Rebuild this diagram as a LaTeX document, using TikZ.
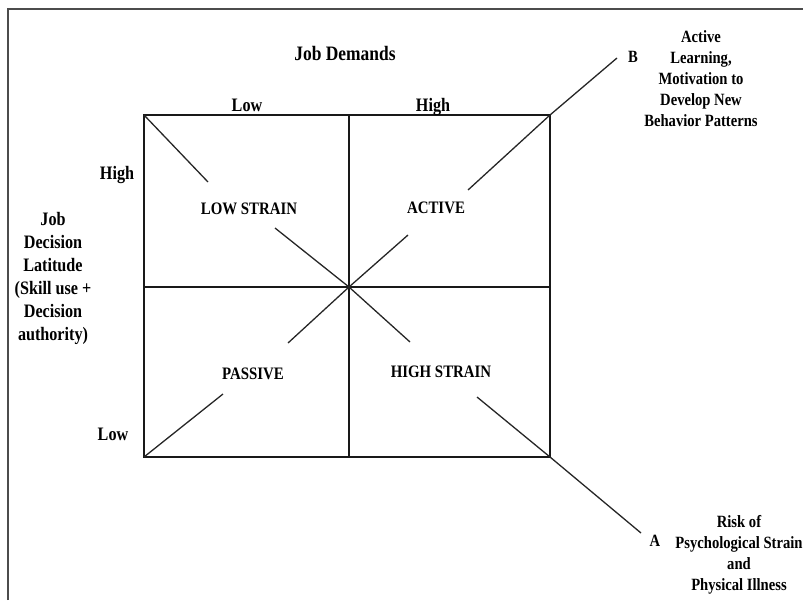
\documentclass[tikz,border=0pt]{standalone}
\usepackage{fontspec}
\setmainfont[FakeStretch=0.85]{Liberation Serif}
\usepackage{tikz}
\usetikzlibrary{positioning,calc}

\begin{document}
\begin{tikzpicture}[
  x=1pt, y=-1pt,
  grid/.style={line width=1.3pt, draw=black!90},
  diag/.style={line width=1.3pt, draw=black!85},
  axis/.style={font=\fontsize{19}{23}\selectfont\bfseries, anchor=base, align=center, inner sep=0pt},
  quad/.style={font=\fontsize{17.5}{21}\selectfont\bfseries, anchor=base, inner sep=0pt},
  note/.style={font=\fontsize{17.2}{21}\selectfont\bfseries, align=center, inner sep=0pt},
]
  \useasboundingbox (0,0) rectangle (803,600);

  % Frame
  \draw[line width=1.6pt, draw=black!70] (8,600) -- (8,9) -- (803,9);

  % Grid
  \coordinate (tl) at (144,115);
  \coordinate (tr) at (550,115);
  \coordinate (bl) at (144,457);
  \coordinate (br) at (550,457);
  \coordinate (c) at (349,287);
  \draw[grid] (tl) rectangle (br);
  \draw[grid] (349,115) -- (349,457);
  \draw[grid] (144,287) -- (550,287);

  % Axis labels
  \node[axis, font=\fontsize{20.5}{24}\selectfont\bfseries] (demands) at (345,60) {Job Demands};
  \node[axis] (dlow) at (247,111) {Low};
  \node[axis] (dhigh) at (433,111) {High};
  \node[axis] (lhigh) at (117,179) {High};
  \node[axis] (llow) at (113,440) {Low};
  \node[axis, anchor=north] (latitude) at (53,212)
    {Job\\Decision\\Latitude\\(Skill use +\\Decision\\authority)};

  % Quadrants
  \node[quad] (lowstrain) at (249,214) {LOW STRAIN};
  \node[quad] (active) at (436,213) {ACTIVE};
  \node[quad] (passive) at (253,379) {PASSIVE};
  \node[quad] (highstrain) at (441,377) {HIGH STRAIN};

  % Diagonal ends
  \node[note] (B) at (633,57) {B};
  \node[note] (A) at (655,541) {A};
  \node[note, anchor=north] (learning) at (701,30)
    {Active\\Learning,\\Motivation to\\Develop New\\Behavior Patterns};
  \node[note, anchor=north] (risk) at (739,515)
    {Risk of\\Psychological Strain\\and\\Physical Illness};

  % Diagonals
  \coordinate (a1) at (208,182);
  \coordinate (a2) at (275,228);
  \coordinate (a3) at (410,342);
  \coordinate (a4) at (477,397);
  \coordinate (a5) at (641,533);
  \coordinate (b1) at (223,394);
  \coordinate (b2) at (288,343);
  \coordinate (b3) at (408,235);
  \coordinate (b4) at (468,190);
  \coordinate (b5) at (617,58);
  \draw[diag] (tl) -- (a1);
  \draw[diag] (a2) -- (c) -- (a3);
  \draw[diag] (a4) -- (br) -- (a5);
  \draw[diag] (bl) -- (b1);
  \draw[diag] (b2) -- (c) -- (b3);
  \draw[diag] (b4) -- (tr) -- (b5);
\end{tikzpicture}
\end{document}
